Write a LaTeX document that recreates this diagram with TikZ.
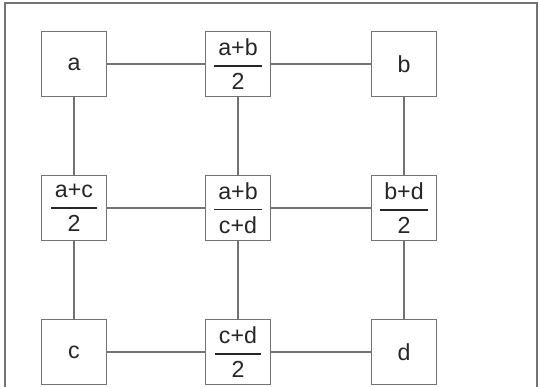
\documentclass[tikz,border=0pt]{standalone}
\usepackage{fontspec}
\setmainfont{Liberation Sans}
\usepackage{amsmath}
\definecolor{linegray}{RGB}{115,115,115}
\newcommand{\halfof}[2]{$\genfrac{}{}{1.1pt}{0}{\mbox{\,#1\,}}{\mbox{\rule{0pt}{13pt}#2}}$}
\begin{document}
\begin{tikzpicture}[font=\fontsize{16.5}{19}\selectfont,
      cell/.style={draw=linegray, line width=0.8pt, fill=white, minimum width=1.625cm, minimum height=1.625cm, inner sep=0pt, text=black!85},
      link/.style={draw=linegray, line width=0.8pt}]
    \useasboundingbox (0,0) rectangle (13.5,9.675);
    \draw[linegray, line width=0.8pt] (0.125,-0.2) -- (0.125,9.6) -- (13.425,9.6) -- (13.425,-0.2);
    % corners and midpoints
    \node[cell] (a) at (1.85,8.075) {a};
    \node[cell] (ab) at (5.95,8.075) {\halfof{a+b}{2}};
    \node[cell] (b) at (10.1,8.075) {b};
    \node[cell] (ac) at (1.85,4.475) {\halfof{a+c}{2}};
    \node[cell] (abcd) at (5.95,4.475) {\halfof{a+b}{c+d}};
    \node[cell] (bd) at (10.1,4.475) {\halfof{b+d}{2}};
    \node[cell] (c) at (1.85,0.875) {c};
    \node[cell] (cd) at (5.95,0.875) {\halfof{c+d}{2}};
    \node[cell] (d) at (10.1,0.875) {d};
    % horizontal links
    \draw[link] (a) -- (ab);
    \draw[link] (ab) -- (b);
    \draw[link] (ac) -- (abcd);
    \draw[link] (abcd) -- (bd);
    \draw[link] (c) -- (cd);
    \draw[link] (cd) -- (d);
    % vertical links
    \draw[link] (a) -- (ac);
    \draw[link] (ac) -- (c);
    \draw[link] (ab) -- (abcd);
    \draw[link] (abcd) -- (cd);
    \draw[link] (b) -- (bd);
    \draw[link] (bd) -- (d);
  \end{tikzpicture}
\end{document}
